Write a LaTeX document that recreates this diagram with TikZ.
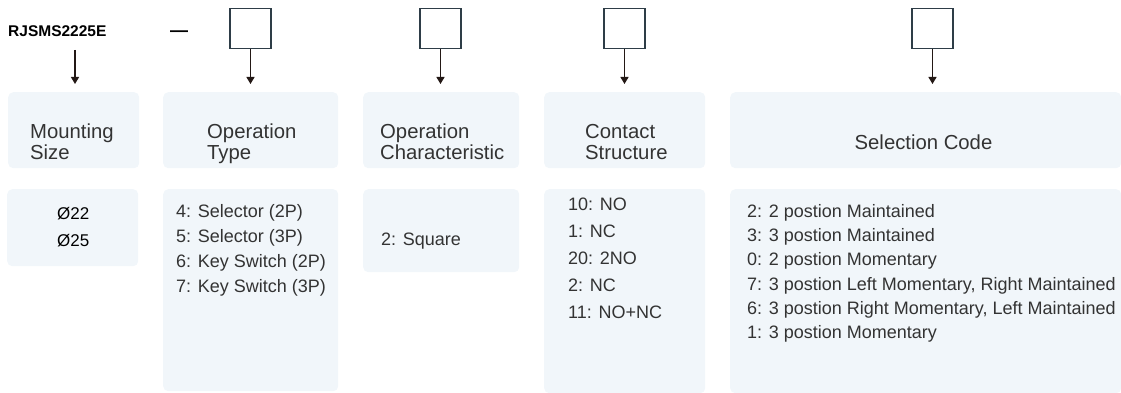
\documentclass[tikz,border=0pt]{standalone}
\usepackage{fontspec}
\setmainfont{Liberation Sans}
\usetikzlibrary{arrows.meta}
\definecolor{cardblue}{HTML}{F1F6FA}
\definecolor{slotgray}{HTML}{2E3D47}
\definecolor{inkgray}{HTML}{333333}
\definecolor{arrowdark}{HTML}{231815}
\begin{document}
\begin{tikzpicture}[x=1pt,y=-1pt,
    card/.style={fill=cardblue,rounded corners=5pt,anchor=north west,inner sep=0pt},
    slot/.style={draw=slotgray,line width=1.8pt,minimum width=41,minimum height=40,inner sep=0pt},
    lbl/.style={font=\fontsize{18}{#1}\selectfont,text=inkgray,align=left,anchor=base west,inner sep=0pt},
    lbl/.default=21,
    head/.style={lbl,font=\fontsize{20.3}{21}\selectfont},
    pick/.style={-{Triangle[width=8pt,length=7pt]},line width=1.2pt,draw=arrowdark}]
    \useasboundingbox (0,0) rectangle (1121,393);
    \node[font=\fontsize{15.5}{18}\bfseries\selectfont,anchor=base west,inner sep=0pt] (code) at (8,36.5) {RJSMS2225E};
    \node[font=\fontsize{18}{18}\bfseries\selectfont,anchor=base west,inner sep=0pt] (dash) at (170,37) {—};
    \node[slot] (s1) at (250.5,28.5) {};
    \node[slot] (s2) at (440.5,28.5) {};
    \node[slot] (s3) at (624.5,28.5) {};
    \node[slot] (s4) at (932.5,28.5) {};
    \coordinate (c0) at (75,50);
    \coordinate (t0) at (75,84);
    \coordinate (t1) at (250.5,84);
    \coordinate (t2) at (440.5,84);
    \coordinate (t3) at (624.5,84);
    \coordinate (t4) at (932.5,84);
    \draw[pick] (c0) -- (t0);
    \draw[pick] (s1.south) -- (t1);
    \draw[pick] (s2.south) -- (t2);
    \draw[pick] (s3.south) -- (t3);
    \draw[pick] (s4.south) -- (t4);
    \node[card,minimum width=131,minimum height=76] (mount) at (8,92) {};
    \node[card,minimum width=175,minimum height=76] (optype) at (163,92) {};
    \node[card,minimum width=156,minimum height=76] (opchar) at (363,92) {};
    \node[card,minimum width=161,minimum height=76] (contact) at (544,92) {};
    \node[card,minimum width=391,minimum height=76] (select) at (730,92) {};
    \node[card,minimum width=131,minimum height=77] (mountval) at (7,189) {};
    \node[card,minimum width=175,minimum height=202] (optypeval) at (163,189) {};
    \node[card,minimum width=156,minimum height=83] (opcharval) at (363,189) {};
    \node[card,minimum width=161,minimum height=204] (contactval) at (544,189) {};
    \node[card,minimum width=391,minimum height=204] (selectval) at (730,189) {};
    \node[head] (mounttxt) at (30,159.3) {Mounting\\Size};
    \node[head] (optypetxt) at (207,159.3) {Operation\\Type};
    \node[head] (opchartxt) at (380,159.3) {Operation\\Characteristic};
    \node[head] (contacttxt) at (585,159.3) {Contact\\Structure};
    \node[head,anchor=base] (selecttxt) at (923.5,149.3) {Selection Code};
    \node[lbl=27,font=\fontsize{17}{27}\selectfont,text=black] (mountlist) at (57,246.1) {Ø22\\Ø25};
    \node[lbl=25] (optypelist) at (176,292.5) {4: Selector (2P)\\5: Selector (3P)\\6: Key Switch (2P)\\7: Key Switch (3P)};
    \node[lbl] (opcharlist) at (381,245.5) {2: Square};
    \node[lbl=27] (contactlist) at (568,318.5) {10: NO\\1: NC\\20: 2NO\\2: NC\\11: NO+NC};
    \node[lbl=24.2] (selectlist) at (747,338.5) {2: 2 postion Maintained\\3: 3 postion Maintained\\0: 2 postion Momentary\\7: 3 postion Left Momentary, Right Maintained\\6: 3 postion Right Momentary, Left Maintained\\1: 3 postion Momentary};
\end{tikzpicture}
\end{document}
